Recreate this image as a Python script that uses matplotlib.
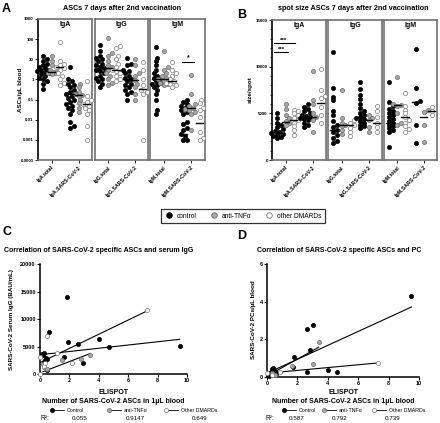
import numpy as np
import matplotlib
matplotlib.use("Agg")
import matplotlib.pyplot as plt
from matplotlib.lines import Line2D

W, H = 440, 423
plt.rcParams['font.family'] = ['Liberation Sans', 'DejaVu Sans']
plt.rcParams['font.weight'] = 'bold'

GROUPS = ["control", "anti-TNFα", "other DMARDs"]
FACE = ["black", "#a6a6a6", "white"]
EDGE = ["black", "#6e6e6e", "#7a7a7a"]

# ---- A: ASCs per µL blood (log), each category = (control, anti-TNF, other)
asc_iga = [
    ([14, 10, 8, 6, 5, 4, 3.5, 3, 2.8, 2.5, 2.3, 2, 1.8, 1.5, 1.2, 1, 0.8, 0.6, 0.35],
     [15, 8, 5, 3, 2.5, 2.3, 2.2, 2, 1.8],
     [70, 8, 6, 5, 4, 3.5, 3, 2, 1.5, 1, 0.7, 0.5]),
    ([4, 1, 0.8, 0.6, 0.5, 0.4, 0.3, 0.25, 0.2, 0.18, 0.15, 0.12, 0.1, 0.08,
      0.06, 0.05, 0.04, 0.03, 0.02, 0.008, 0.005, 0.004],
     [0.6, 0.4, 0.25, 0.2, 0.17, 0.15, 0.1, 0.07, 0.04, 0.023],
     [0.8, 0.15, 0.1, 0.08, 0.06, 0.05, 0.04, 0.03, 0.02, 0.005, 0.001]),
]
asc_igg = [
    ([50, 25, 15, 12, 10, 8, 6, 5, 4, 3.5, 3, 2.5, 2, 1.5, 1.2, 1, 0.8, 0.6, 0.4],
     [120, 20, 15, 8, 5, 4, 3, 2, 1.5, 1, 0.7, 0.5],
     [45, 35, 15, 10, 6, 4, 3, 2.5, 2, 1.5, 1, 0.8]),
    ([12, 6, 5, 3, 2.5, 2, 1.5, 1.2, 1, 0.8, 0.6, 0.5, 0.4, 0.3, 0.25, 0.2, 0.1],
     [10, 5, 2, 1.5, 0.9, 0.6, 0.4, 0.2, 0.1],
     [7, 3, 1, 0.5, 0.3, 0.25, 0.2, 0.001]),
]
asc_igm = [
    ([40, 12, 8, 5, 3, 2, 1.5, 1.2, 1, 0.8, 0.7, 0.6, 0.5, 0.4, 0.3, 0.2, 0.1, 0.03, 0.02],
     [25, 4, 3, 2, 1.5, 1.2, 1, 0.9, 0.8, 0.7, 0.6, 0.5],
     [7, 3, 2, 1.5, 1, 0.8, 0.7, 0.6, 0.5, 0.4]),
    ([0.1, 0.08, 0.06, 0.05, 0.04, 0.03, 0.025, 0.02, 0.008, 0.006, 0.004, 0.003,
      0.002, 0.0015, 0.001, 0.001],
     [1.6, 0.2, 0.06, 0.05, 0.04, 0.035, 0.03, 0.025, 0.02, 0.003],
     [0.1, 0.07, 0.04, 0.03, 0.013, 0.0025, 0.0013, 0.001]),
]
asc_medians = [
    [2.6, 2.3, 4.0, 0.2, 0.17, 0.059],
    [3.6, 3.5, 2.9, 1.1, 0.9, 0.33],
    [1.0, 1.0, 0.8, 0.002, 0.04, 0.0068],
]

# ---- B: spot size
spot_iga = [
    ([5000, 4500, 4000, 3800, 3500, 3300, 3100, 3000, 2900, 2800, 2700, 2600, 2500, 2400],
     [6000, 5500, 4800, 4500, 4200, 4000, 3800],
     [5400, 5200, 5000, 4800, 4500, 4300, 4000, 3600, 3200, 2700]),
    ([6000, 5700, 5500, 5200, 5000, 4800, 4700, 4600, 4500, 4400, 4300, 4000, 3700, 3500],
     [9500, 6400, 6000, 5000, 4600, 4300, 3000],
     [9800, 7500, 6900, 6600, 5700, 4800, 4000]),
]
spot_igg = [
    ([11600, 7700, 6800, 6400, 5200, 4800, 4200, 3800, 3500, 3200, 3000, 2700, 2400, 2000, 1800],
     [7500, 4500, 4000, 3800, 3600, 3200, 2800],
     [4300, 4000, 3700, 3400, 3000, 2600]),
    ([8400, 7600, 7000, 6500, 6000, 5600, 5200, 5000, 4800, 4600, 4500, 4400, 4200,
      4000, 3800, 3600, 3400],
     [4800, 4500, 4300, 3500, 3000],
     [5800, 5300, 4600, 4000, 3500, 3000]),
]
spot_igm = [
    ([8400, 6200, 5800, 5500, 5200, 5000, 4800, 4600, 4400, 4200, 4000, 3800, 3600,
      3400, 3200, 3000, 1400],
     [8900, 6000, 5900, 5800, 5000, 4000, 3700],
     [7200, 5800, 5400, 5000, 4600, 4300, 4000, 3600, 3300, 3000]),
    ([11900, 7700, 6300, 6100, 3700, 1800],
     [5400, 5100, 3700, 1900],
     [5700, 5200, 4800]),
]
spot_medians = [
    [3000, 4100, 4300, 4600, 4600, 6100],
    [3200, 3750, 3700, 4500, 4300, 4000],
    [4000, 5900, 4600, 6200, 4600, 5200],
]

# ---- C: ELISPOT vs serum IgG
c_x = [
    [1.84, 0.6, 2.6, 4.0, 9.5, 4.7, 1.9, 1.6, 2.9, 0.5, 0.3, 0.2, 0.4, 0.35, 0.15, 0.25, 0.45],
    [3.4, 2.8, 0.3, 0.5, 0.2, 1.5],
    [7.3, 0.45, 0.0, 1.15, 2.2, 0.3, 0.35, 0.0],
]
c_y = [
    [14000, 7600, 5400, 6400, 5100, 4900, 5800, 3100, 2000, 700, 3800, 3400, 3000, 2600, 3600, 2200, 2800],
    [3500, 2800, 1300, 1000, 1800, 2500],
    [11600, 6900, 3100, 3800, 2000, 1500, 2000, 0],
]
c_fit = [(3500, 295), (200, 1030), (2070, 1290)]   # (intercept, slope)
c_r2 = ["0.055", "0.9147", "0.649"]

# ---- D: ELISPOT vs PCs
d_x = [
    [9.5, 2.6, 3.0, 1.8, 2.8, 2.6, 4.0, 4.6, 0.4, 0.2, 0.3, 0.5, 0.6, 1.7, 0.1, 0.35],
    [3.4, 3.0, 1.65, 0.3, 0.5],
    [7.3, 0.85, 0.0, 0.3],
]
d_y = [
    [4.3, 2.55, 2.75, 1.07, 1.45, 0.27, 0.37, 0.27, 0.5, 0.2, 0.35, 0.3, 0.15, 0.55, 0.05, 0.4],
    [1.85, 0.7, 0.6, 0.2, 0.1],
    [0.75, 0.27, 0.2, 0.1],
]
d_fit = [(0.2, 0.37), (0.05, 0.45), (0.2, 0.075)]
d_r2 = ["0.587", "0.792", "0.739"]

CAT_POS = [0.25, 0.75]
GROUP_OFF = [-0.15, 0.0, 0.15]

fig = plt.figure(figsize=(W / 100, H / 100), dpi=100)


def px_ax(x0, y0, x1, y1):
    return fig.add_axes([x0 / W, 1 - y1 / H, (x1 - x0) / W, (y1 - y0) / H])


def ftext(x, y, s, **kw):
    fig.text(x / W, 1 - y / H, s, **kw)


def swarm(ax, xc, vals, r=2.1):
    pts = ax.transData.transform(np.column_stack([np.full(len(vals), xc), vals]))
    x0, ys = pts[0, 0], pts[:, 1]
    placed, xs = [], np.zeros(len(vals))
    for i in np.argsort(ys):
        best, best_d = x0, -1
        for k in [0, 1, -1, 2, -2, 3, -3]:
            cx = x0 + k * r * 0.95
            d = min([np.hypot(cx - px, ys[i] - py) for px, py in placed], default=99)
            if d >= 1.7 * r:
                best = cx
                break
            if d > best_d:
                best, best_d = cx, d
        placed.append((best, ys[i]))
        xs[i] = best
    return ax.transData.inverted().transform(np.column_stack([xs, ys]))[:, 0]


def strip_panel(ax, cats, meds, title, first, log, ticks, ticklabels, cat_labels):
    ax.set_xlim(0, 1)
    if log:
        ax.set_yscale("log")
        ax.set_ylim(1e-4, 1000)
    else:
        ax.set_ylim(0, 15000)
    ax.minorticks_off()
    for ci, cat in enumerate(cats):
        for gi, vals in enumerate(cat):
            xc = CAT_POS[ci] + GROUP_OFF[gi]
            xs = swarm(ax, xc, vals)
            ax.scatter(xs, vals, s=9, c=FACE[gi], edgecolors=EDGE[gi],
                       linewidths=0.5, zorder=3, clip_on=False)
            m = meds[ci * 3 + gi]
            ax.plot([xc - 0.07, xc + 0.07], [m, m], color="black", lw=1.0, zorder=4)
    for s in ax.spines.values():
        s.set_color("#707070")
        s.set_linewidth(1.2)
    ax.text(0.5, 0.985, title, transform=ax.transAxes, ha="center", va="top",
            fontsize=5, fontweight="bold")
    ax.set_xticks(CAT_POS)
    ax.set_xticklabels(cat_labels, rotation=45, ha="right", rotation_mode="anchor",
                       fontsize=3.8)
    ax.tick_params(axis="x", length=2, width=0.6, pad=1.5)
    if first:
        ax.spines["left"].set_color("black")
        ax.set_yticks(ticks)
        ax.set_yticklabels(ticklabels, fontsize=3.2)
        ax.tick_params(axis="y", length=2, width=0.6, pad=1)
        if not log:
            ax.set_yticks(np.arange(0, 15001, 1000), minor=True)
            ax.tick_params(axis="y", which="minor", length=1.2, width=0.5)
    else:
        ax.set_yticks([])


# ---- panel A
a_ticks = [1e-4, 1e-3, 1e-2, 0.1, 1, 10, 100, 1000]
a_labels = ["0.0001", "0.001", "0.01", "0.1", "1", "10", "100", "1000"]
a_boxes = [(38, 92), (95, 148), (150, 205)]
for i, (iso, cats) in enumerate(zip(["IgA", "IgG", "IgM"], [asc_iga, asc_igg, asc_igm])):
    ax = px_ax(a_boxes[i][0], 19, a_boxes[i][1], 160)
    strip_panel(ax, cats, asc_medians[i], iso, i == 0, True, a_ticks, a_labels,
                [f"{iso}.total", f"{iso}.SARS-CoV-2"])
    if iso == "IgM":
        ax.plot([0.58, 0.8], [7.2, 7.2], color="black", lw=0.8)
        ax.text(0.69, 7.6, "*", ha="center", va="bottom", fontsize=5)

# ---- panel B
b_ticks = [0, 5000, 10000, 15000]
b_labels = ["0", "5000", "10000", "15000"]
b_boxes = [(272, 326), (328, 382), (384, 437)]
for i, (iso, cats) in enumerate(zip(["IgA", "IgG", "IgM"], [spot_iga, spot_igg, spot_igm])):
    ax = px_ax(b_boxes[i][0], 20, b_boxes[i][1], 160)
    strip_panel(ax, cats, spot_medians[i], iso, i == 0, False, b_ticks, b_labels,
                [f"{iso}.total", f"{iso}.SARS-CoV-2"])
    if iso == "IgA":
        ax.plot([0.04, 0.43], [12500, 12500], color="black", lw=0.8)
        ax.plot([0.04, 0.30], [11550, 11550], color="black", lw=0.8)
        ax.text(0.22, 12550, "***", ha="center", va="bottom", fontsize=4.5)
        ax.text(0.17, 11600, "***", ha="center", va="bottom", fontsize=4.5)

ftext(6, 9, "A", fontsize=9, fontweight="bold", ha="center", va="center")
ftext(242, 15, "B", fontsize=9, fontweight="bold", ha="center", va="center")
ftext(122, 8, "ASCs 7 days after 2nd vaccination", fontsize=5.2, ha="center", va="center")
ftext(353, 8, "spot size ASCs 7 days after 2nd vaccination", fontsize=5.2,
      ha="center", va="center")
ftext(20, 90, "ASCs/µL blood", fontsize=4.5, rotation=90, ha="center", va="center")
ftext(250, 90, "size/spot", fontsize=4.5, rotation=90, ha="center", va="center")

# shared legend for A/B
handles = [Line2D([], [], ls="none", marker="o", markersize=4, markerfacecolor=FACE[g],
                  markeredgecolor=EDGE[g], markeredgewidth=0.6, label=GROUPS[g])
           for g in range(3)]
leg = fig.legend(handles=handles, loc="center", bbox_to_anchor=(243 / W, 1 - 216 / H),
                 ncol=3, fontsize=4.8, frameon=True, fancybox=False, handlelength=1.2,
                 handletextpad=0.6, columnspacing=2.0, borderpad=0.5)
leg.get_frame().set_edgecolor("black")
leg.get_frame().set_linewidth(0.9)
for t in leg.get_texts():
    t.set_fontweight("normal")


def corr_panel(ax, xs, ys, fits, ymax, ystep):
    for g in range(3):
        lo, hi = min(xs[g]), max(xs[g])
        b, m = fits[g]
        ax.plot([lo, hi], [b + m * lo, b + m * hi], color="black", lw=0.8, zorder=2)
        ax.scatter(xs[g], ys[g], s=9, c=FACE[g], edgecolors=EDGE[g], linewidths=0.5,
                   zorder=3, clip_on=False)
    ax.set_xlim(0, 10)
    ax.set_ylim(0, ymax)
    ax.set_xticks(range(0, 11, 2))
    ax.set_yticks(np.arange(0, ymax + 1e-9, ystep))
    ax.spines[["top", "right"]].set_visible(False)
    for s in ["left", "bottom"]:
        ax.spines[s].set_linewidth(1.1)
    ax.tick_params(length=2, width=0.8, labelsize=4, pad=1)


def corr_legend(x_syms, x_r2, r2s):
    names = ["Control", "anti-TNFα", "Other DMARDs"]
    for g in range(3):
        xs = x_syms[g]
        fig.add_artist(Line2D([(xs - 6) / W, (xs + 6) / W], [1 - 410 / H] * 2,
                              transform=fig.transFigure, color="black", lw=0.6,
                              marker="o", markevery=[0], markersize=3,
                              markerfacecolor=FACE[g], markeredgecolor=EDGE[g],
                              markeredgewidth=0.5))
        ftext(xs + 9, 410, names[g], fontsize=3.8, va="center", fontweight="normal")
        ftext(x_r2[g + 1], 418, r2s[g], fontsize=4.5, va="center", ha="center",
              fontweight="normal")
    ftext(x_r2[0], 418, "R²:", fontsize=4.8, va="center", ha="center",
          fontweight="normal")


# ---- panel C
ax = px_ax(40, 264, 187, 374)
corr_panel(ax, c_x, c_y, c_fit, 20000, 5000)
ftext(7, 232, "C", fontsize=9, fontweight="bold", ha="center", va="center")
ftext(4, 250, "Correlation of SARS-CoV-2 specific ASCs and serum IgG", fontsize=5,
      va="center")
ftext(12, 320, "SARS-CoV-2 Serum IgG (BAU/mL)", fontsize=4.5, rotation=90,
      ha="center", va="center")
ftext(113, 392, "ELISPOT", fontsize=5, ha="center", va="center")
ftext(113, 401, "Number of SARS-CoV-2 ASCs in 1µL blood", fontsize=5, ha="center",
      va="center")
corr_legend([58, 115, 172], [45, 80, 135, 200], c_r2)

# ---- panel D
ax = px_ax(267, 264, 419, 377)
corr_panel(ax, d_x, d_y, d_fit, 6, 2)
ftext(242, 236, "D", fontsize=9, fontweight="bold", ha="center", va="center")
ftext(257, 250, "Correlation of SARS-CoV-2 specific ASCs and PC", fontsize=5,
      va="center")
ftext(254, 320, "SARS-CoV-2 PCs/µL blood", fontsize=4.5, rotation=90,
      ha="center", va="center")
ftext(343, 392, "ELISPOT", fontsize=5, ha="center", va="center")
ftext(343, 401, "Number of SARS-CoV-2 ASCs in 1µL blood", fontsize=5, ha="center",
      va="center")
corr_legend([290, 330, 380], [270, 297, 340, 393], d_r2)

fig.savefig("out.png", dpi=100)
